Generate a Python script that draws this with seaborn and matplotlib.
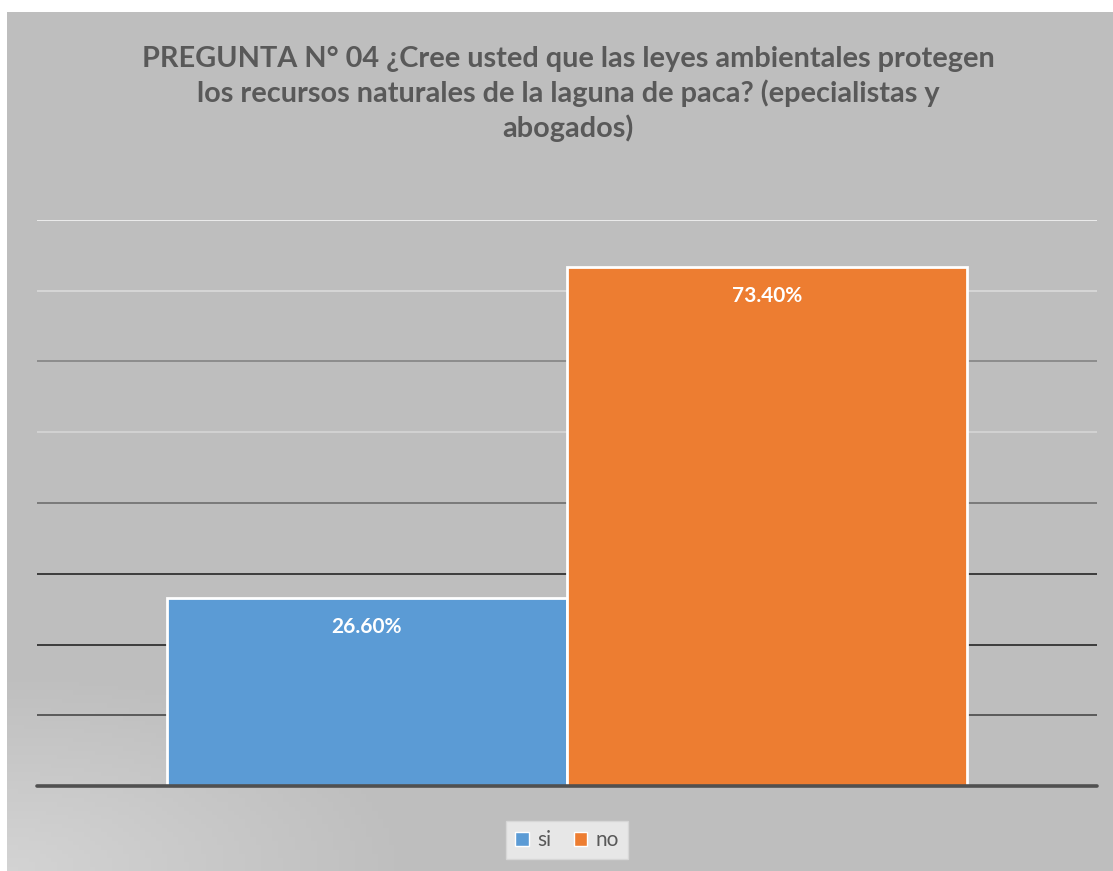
import seaborn as sns
import matplotlib.pyplot as plt
import matplotlib.patches as mpatches
import numpy as np
import pandas as pd

# data
respuestas = ["si", "no"]
porcentajes = [26.6, 73.4]
etiquetas = ["26.60%", "73.40%"]
colores = ["#5B9BD5", "#ED7D31"]
titulo = ("PREGUNTA N° 04 ¿Cree usted que las leyes ambientales protegen\n"
          "los recursos naturales de la laguna de paca? (epecialistas y\n"
          "abogados)")

df = pd.DataFrame({"grupo": [""] * len(respuestas),
                   "respuesta": respuestas,
                   "valor": porcentajes})

sns.set_style("white")
plt.rcParams["font.family"] = ["Lato", "DejaVu Sans"]

fig = plt.figure(figsize=(11.13, 8.71), dpi=100)
fig.patch.set_facecolor("white")

# grey chart area with a soft lighter corner at bottom left
bg = fig.add_axes([7 / 1113, 0, 1 - 7 / 1113, 1 - 12 / 871])
yy, xx = np.mgrid[0:1:200j, 0:1:200j]
shade = np.clip(1 - np.hypot(xx / 0.35, yy / 0.22), 0, 1)
img = 0.749 + 0.08 * shade
bg.imshow(np.dstack([img, img, img]), origin="lower", extent=[0, 1, 0, 1],
          aspect="auto")
bg.set_axis_off()

ax = fig.add_axes([37 / 1113, 85 / 871, 1060 / 1113, 566 / 871])
ax.patch.set_alpha(0)

# gridlines drawn with the shading of the original
grid_cols = {10: "#5a5a5a", 20: "#3c3c3c", 30: "#3c3c3c", 40: "#7a7a7a",
             50: "#d2d2d2", 60: "#8c8c8c", 70: "#d6d6d6", 80: "#ececec"}
for lvl, c in grid_cols.items():
    ax.axhline(lvl, color=c, lw=1.4, zorder=0)

sns.barplot(data=df, x="grupo", y="valor", hue="respuesta",
            palette=colores, width=0.755, gap=0, edgecolor="white",
            linewidth=2, saturation=1, ax=ax, zorder=2, legend=False)

ax.axhline(0, color="#505050", lw=2.6, zorder=3, clip_on=False)
ax.set_ylim(0, 80)
ax.set_xlim(-0.5, 0.5)
ax.set_xlabel("")
ax.set_ylabel("")
ax.set_xticks([])
ax.set_yticks([])
for s in ax.spines.values():
    s.set_visible(False)

for cont, lab in zip(ax.containers, etiquetas):
    for p in cont.patches:
        ax.text(p.get_x() + p.get_width() / 2, p.get_height() - 4.1, lab,
                ha="center", va="center", color="white", fontsize=15,
                fontweight="bold", zorder=4)

fig.text(568 / 1113, 1 - 94 / 871, titulo, ha="center", va="center",
         fontsize=20.8, fontweight="bold", color="#595959", linespacing=1.33)

handles = [mpatches.Patch(facecolor=c, label=r) for c, r in zip(colores, respuestas)]
leg = fig.legend(handles=handles, loc="center", bbox_to_anchor=(567 / 1113, 1 - 840 / 871),
                 ncol=2, frameon=True, fontsize=15, handlelength=0.65, handleheight=0.65,
                 handletextpad=0.4, columnspacing=1.1, fancybox=False,
                 borderpad=0.45)
leg.get_frame().set_facecolor("#F2F2F2")
leg.get_frame().set_edgecolor("#D9D9D9")
for t in leg.get_texts():
    t.set_color("#595959")

plt.savefig("out.png", dpi=100)
